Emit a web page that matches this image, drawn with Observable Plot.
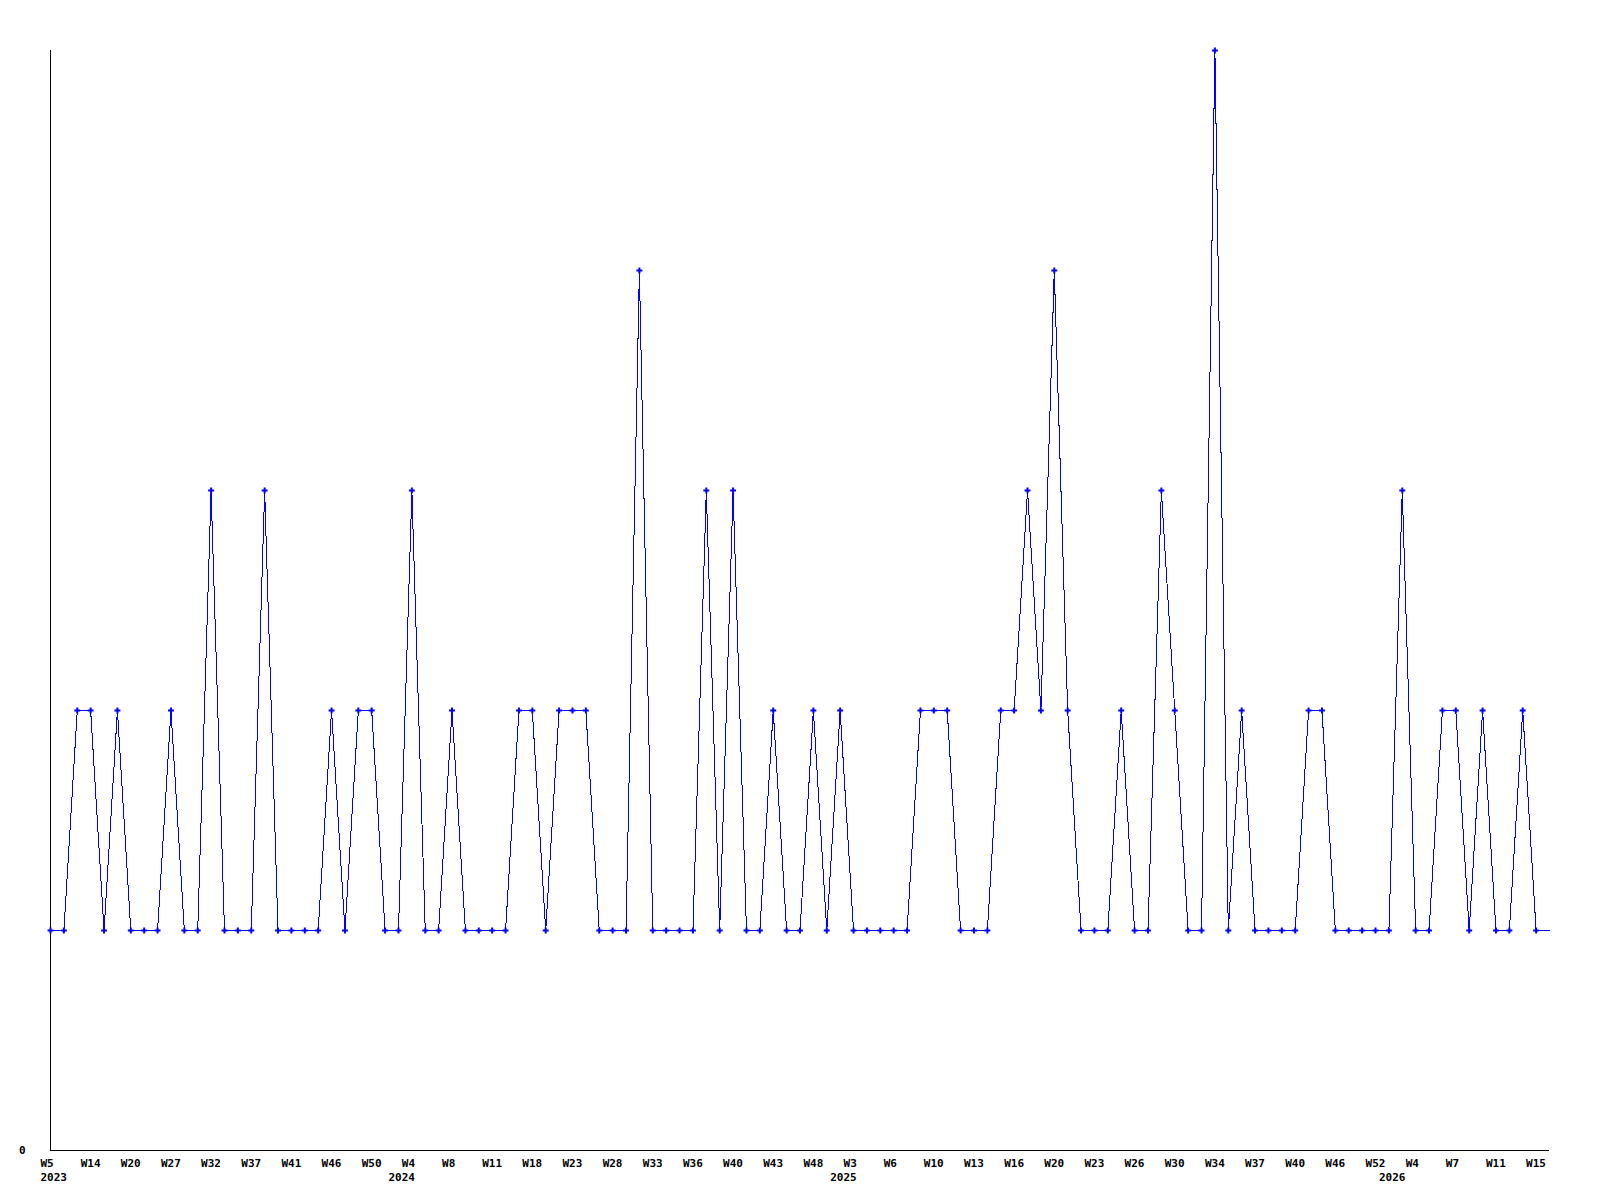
<!DOCTYPE html>
<html>
<head>
<meta charset="utf-8">
<script src="https://cdn.jsdelivr.net/npm/d3@7"></script>
<script src="https://cdn.jsdelivr.net/npm/@observablehq/plot@0.6"></script>
<style>
  html, body { margin: 0; padding: 0; background: #fff; }
  #chart { width: 1600px; height: 1200px; }
</style>
</head>
<body>
<div id="chart"></div>
<script>
// Weekly counts (only weeks with data), in order
const values = [
  1,1,2,2,1,2,1,1,1,2,
  1,1,3,1,1,1,3,1,1,1,
  1,2,1,2,2,1,1,3,1,1,
  2,1,1,1,1,2,2,1,2,2,
  2,1,1,1,4,1,1,1,1,3,
  1,3,1,1,2,1,1,2,1,2,
  1,1,1,1,1,2,2,2,1,1,
  1,2,2,3,2,4,2,1,1,1,
  2,1,1,3,2,1,1,5,1,2,
  1,1,1,1,2,2,1,1,1,1,
  1,3,1,1,2,2,1,2,1,1,
  2,1,1
];
// Points shown with a marker (the last, running week has none)
const markedCount = 112;

// Tick labels: one every third point
const weekLabels = [
  "W5","W14","W20","W27","W32","W37","W41","W46","W50",
  "W4","W8","W11","W18","W23","W28","W33","W36","W40","W43","W48",
  "W3","W6","W10","W13","W16","W20","W23","W26","W30","W34","W37","W40","W46","W52",
  "W4","W7","W11","W15"
];
const tickStep = 3;

// Year labels at the first point of each year
const yearLabels = ["2023","2024","2025","2026"];
const yearIndex = [0, 26, 59, 100];

const points = values.map((v, i) => ({i, v}));
const ticks = weekLabels.map((t, k) => ({i: k * tickStep, t}));
const years = yearLabels.map((t, k) => ({i: yearIndex[k], t}));

const font = {fontFamily: "DejaVu Sans Mono", fontSize: 11, fontWeight: "bold", fill: "#000"};

const chart = Plot.plot({
  width: 1600,
  height: 1200,
  marginLeft: 50,
  marginRight: 51,
  marginTop: 50,
  marginBottom: 50,
  style: {background: "#fff", fontFamily: "DejaVu Sans Mono", fontSize: "11px", fontWeight: "bold", overflow: "visible"},
  x: {type: "linear", domain: [0, values.length - 1], axis: null},
  y: {domain: [0, 5], axis: null},
  marks: [
    Plot.ruleX([0], {stroke: "#000", strokeWidth: 1, shapeRendering: "crispEdges"}),
    Plot.ruleY([0], {stroke: "#000", strokeWidth: 1, shapeRendering: "crispEdges"}),
    Plot.text([0], {y: d => d, text: d => String(d), frameAnchor: "left", textAnchor: "end", dx: -25, lineAnchor: "middle", ...font}),
    Plot.line(points, {x: "i", y: "v", stroke: "#0000ff", strokeWidth: 1, shapeRendering: "crispEdges"}),
    Plot.dot(points.filter(d => d.i < markedCount), {x: "i", y: "v", symbol: "cross", r: 2.5, fill: "#0000ff", stroke: "none"}),
    Plot.text(ticks, {x: "i", text: "t", frameAnchor: "bottom", textAnchor: "start", dx: -10, dy: 12.5, lineAnchor: "middle", ...font}),
    Plot.text(years, {x: "i", text: "t", frameAnchor: "bottom", textAnchor: "start", dx: -10, dy: 26.5, lineAnchor: "middle", ...font})
  ]
});
document.getElementById("chart").appendChild(chart);
</script>
</body>
</html>
